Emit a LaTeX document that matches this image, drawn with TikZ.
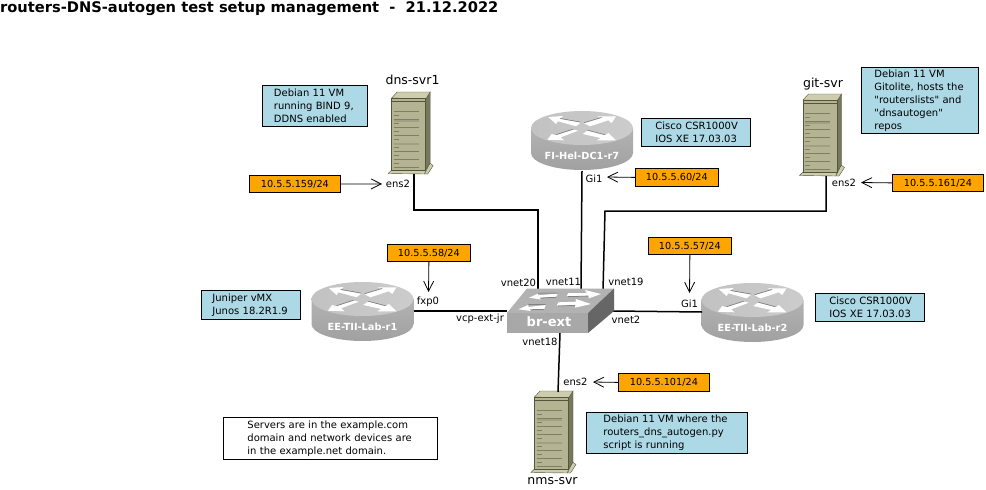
\documentclass[tikz,border=0pt]{standalone}
\usepackage{fontspec}
\setmainfont{DejaVu Sans}[Ligatures=TeXOff]
\usetikzlibrary{arrows.meta}
\definecolor{lblue}{HTML}{ADD8E6}
\definecolor{lorange}{HTML}{FFA500}
\definecolor{srvfront}{HTML}{B4B492}
\definecolor{srvtop}{HTML}{CDCDAE}
\definecolor{srvside}{HTML}{77775C}
\definecolor{srvedge}{HTML}{55553F}
\definecolor{srvline}{HTML}{7E7E60}
\definecolor{srvpale}{HTML}{A0A084}
\tikzset{
  x=1pt,y=-1pt,
  lbl/.style={font=\fontsize{10}{12}\selectfont,inner sep=0pt},
  hostname/.style={font=\fontsize{12.5}{14}\selectfont,inner sep=0pt},
  infobox/.style={draw=black,line width=0.8pt,anchor=north west,align=left,font=\fontsize{10}{13}\selectfont,inner ysep=0pt},
  bluebox/.style={infobox,fill=lblue},
  whitebox/.style={infobox,fill=white},
  ipbox/.style={draw=black,line width=0.8pt,fill=lorange,anchor=north west,inner sep=0pt,font=\fontsize{9.7}{11}\selectfont},
  link/.style={draw=black,line width=1.5pt},
  pointer/.style={draw=black,line width=0.8pt,-{Straight Barb[length=10pt,width=10pt,line width=0.8pt]}},
  pics/router/.style={code={
    \path[top color=black!30,bottom color=black!37] (-51,0) -- (-51,25) arc[start angle=180,end angle=360,x radius=51pt,y radius=17pt] -- (51,0) -- cycle;
    \path[left color=black!24,right color=black!20] (0,0) ellipse[x radius=51pt,y radius=17pt];
    \path[fill=white] (-33.7,-11) -- (-19,-12) -- (-22,-9) -- (-1.3,-5.3) -- (-6,-1.7) -- (-24,-6.7) -- (-26,-4) -- cycle;
    \path[fill=white] (2,-4.7) -- (19.7,-10) -- (14.7,-11.7) -- (34,-11.7) -- (29.7,-5) -- (26.3,-7.7) -- (8,-1.7) -- cycle;
    \path[fill=white] (-34.7,11.7) -- (-30.3,6) -- (-26,7.3) -- (-8.7,1.7) -- (-3.7,2.7) -- (-21.3,9.3) -- (-18,12.3) -- cycle;
    \path[fill=white] (0.7,6) -- (5.3,2.7) -- (23,7.3) -- (26.3,5) -- (34,12.3) -- (14.7,12.3) -- (18.7,10) -- cycle;
    \draw[black!55,line width=0.5pt] (2,-5.3) -- (19.7,-10.6) (-26,6.7) -- (-8.7,1.1) (-22,-9.6) -- (-1.3,-5.9) (5.3,2.1) -- (23,6.7);
    \node[inner sep=0pt,minimum width=103pt,minimum height=60pt] (-body) at (0,13) {};
    \node[inner sep=0pt,font=\fontsize{9.8}{11}\bfseries\selectfont,text=white] at (0,28) {#1};
  }},
  pics/server/.style={code={
    \path[fill=srvtop,draw=srvedge,line width=0.4pt] (-3.5,81.5) -- (0,78) -- (34,78) -- (33,82) -- cycle;
    \path[fill=srvtop,draw=srvedge,line width=0.4pt] (33,82) -- (38,71) -- (41.5,73.5) -- (36,82) -- cycle;
    \path[fill=srvside,draw=srvedge,line width=0.4pt] (34,7) -- (38.5,0) -- (38.5,71) -- (34,78) -- cycle;
    \path[fill=srvtop,draw=srvedge,line width=0.4pt] (0,6) -- (5.5,0) -- (38.5,0) -- (34,7) -- cycle;
    \path[fill=srvfront,draw=srvedge,line width=0.5pt] (0,6) rectangle (34,78);
    \draw[srvedge,line width=0.5pt] (0,9) -- (34,9);
    \foreach \yy in {19,27,...,75}{\draw[srvline,line width=0.8pt] (2,\yy) -- (27,\yy);}
    \foreach \yy in {23,31,...,75}{\draw[srvline,line width=0.7pt] (2,\yy) -- (7,\yy);}
    \foreach \yy in {29,52}{\draw[srvpale,line width=1.6pt] (2,\yy) -- (27,\yy);}
    \node[inner sep=0pt,minimum width=45pt,minimum height=82pt] (-body) at (19,41) {};
  }},
}
\begin{document}
\begin{tikzpicture}
\useasboundingbox (0,0) rectangle (986,490);
\path[fill=white] (0,0) rectangle (986,490);

\coordinate (sw20) at (538,291);
\coordinate (sw11) at (581,291);
\coordinate (sw19) at (603,291);
\coordinate (swL) at (507,311);
\coordinate (swR) at (613,311);
\coordinate (swB) at (560,333);
\coordinate (jdns1) at (414,210);
\coordinate (jdns2) at (538,210);
\coordinate (jgit1) at (826,211);
\coordinate (jgit2) at (605,211);
\coordinate (r1port) at (413.5,311);
\coordinate (r2port) at (702,312);
\coordinate (nmstop) at (558,392);

\pic (dns) at (391.7,92) {server};
\pic (git) at (803,94) {server};
\pic (nms) at (534.5,391) {server};

\pic (r7) at (582,128) {router={FI-Hel-DC1-r7}};
\pic (r1) at (362.5,299) {router={EE-TII-Lab-r1}};
\pic (r2) at (752.5,300) {router={EE-TII-Lab-r2}};

\draw[link] (414,174) -- (jdns1) -- (jdns2) -- (sw20);
\draw[link] (r7-body.south) -- (sw11);
\draw[link] (826,176) -- (jgit1) -- (jgit2) -- (sw19);
\draw[link] (r1port) -- (swL);
\draw[link] (swR) -- (r2port);
\draw[link] (swB) -- (nmstop);

% switch
\path[fill=black!30] (507,313) -- (527,288.5) -- (614,288.5) -- (588,313) -- cycle;
\path[fill=black!34] (507,313) rectangle (588,333);
\path[fill=black!60] (588,313) -- (614,288.5) -- (614,311) -- (588,333) -- cycle;
\path[fill=white] (529,297.7) -- (538,293.7) -- (538.3,295.3) -- (558,293.5) -- (556,296.7) -- (540,297.7) -- (541,299.5) -- cycle;
\path[fill=white] (566.7,296) -- (568.3,293) -- (586.7,293) -- (585,290) -- (601,294) -- (589,298.3) -- (588.3,295.7) -- cycle;
\path[fill=white] (518.3,309.3) -- (528.3,305) -- (528.3,307) -- (545.7,305) -- (544.3,309) -- (530,309.3) -- (531,311) -- cycle;
\path[fill=white] (556.7,305.7) -- (558.3,302.3) -- (576,301.7) -- (575.7,299) -- (591,304) -- (575,307.7) -- (575,305) -- cycle;
\draw[black!60,line width=0.5pt] (538,293.2) -- (558,293) (528.3,304.5) -- (545.7,304.5) (540,298.2) -- (556,297.2) (530,309.8) -- (544,309.5) (568,296.3) -- (588,296.2) (558,306) -- (575,305.5);
\node[inner sep=0pt,font=\fontsize{13}{14}\bfseries\selectfont,text=white] (sw) at (549,322) {br-ext};

\node[anchor=west,inner sep=0pt,font=\fontsize{14.65}{16}\bfseries\selectfont] (title) at (0,9) {routers-DNS-autogen test setup management\ \ -\ \ 21.12.2022};
\node[hostname] (ndns) at (412.5,80) {dns-svr1};
\node[hostname] (ngit) at (823,84.5) {git-svr};
\node[hostname] (nnms) at (552.5,481.5) {nms-svr};

\node[bluebox,minimum width=105pt,minimum height=41pt,inner xsep=11.5pt,text width=82pt] (idns) at (262,85) {Debian 11 VM\\running BIND 9,\\DDNS enabled};
\node[bluebox,minimum width=117pt,minimum height=66pt,inner xsep=13pt,text width=91pt] (igit) at (861,67) {Debian 11 VM\\Gitolite, hosts the\\"routerslists" and\\"dnsautogen"\\repos};
\node[bluebox,minimum width=109pt,minimum height=28pt,inner xsep=14pt,text width=81pt] (ir7) at (641,118) {Cisco~CSR1000V\\IOS~XE~17.03.03};
\node[bluebox,minimum width=99pt,minimum height=29pt,inner xsep=11pt,text width=77pt] (ir1) at (201,290) {Juniper vMX\\Junos 18.2R1.9};
\node[bluebox,minimum width=109pt,minimum height=28pt,inner xsep=14pt,text width=81pt] (ir2) at (815,293) {Cisco~CSR1000V\\IOS~XE~17.03.03};
\node[bluebox,minimum width=161pt,minimum height=41pt,inner xsep=17pt,text width=127pt] (inms) at (586,412) {Debian 11 VM where the\\routers\_dns\_autogen.py\\script is running};
\node[whitebox,minimum width=214pt,minimum height=42pt,inner xsep=24pt,text width=166pt] (note) at (223,417) {Servers are in the example.com\\domain and network devices are\\in the example.net domain.};

\node[ipbox,minimum width=91pt,minimum height=17pt] (ipdns) at (249,175) {10.5.5.159/24};
\node[ipbox,minimum width=83pt,minimum height=18pt] (ipr7) at (635,168) {10.5.5.60/24};
\node[ipbox,minimum width=91pt,minimum height=17pt] (ipgit) at (892,174) {10.5.5.161/24};
\node[ipbox,minimum width=83pt,minimum height=17pt] (ipr1) at (387,244) {10.5.5.58/24};
\node[ipbox,minimum width=83pt,minimum height=17pt] (ipr2) at (648,237) {10.5.5.57/24};
\node[ipbox,minimum width=91pt,minimum height=18pt] (ipnms) at (618,373) {10.5.5.101/24};

\node[lbl] (pdns) at (398,184) {ens2};
\node[lbl] (pr7) at (594,179) {Gi1};
\node[lbl] (pgit) at (844,183) {ens2};
\node[lbl] (pr1) at (428,302) {fxp0};
\node[lbl] (pr2) at (689.5,304) {Gi1};
\node[lbl] (pnms) at (575.5,382) {ens2};
\node[lbl] at (480,319) {vcp-ext-jr};
\node[lbl] at (518.5,283) {vnet20};
\node[lbl] at (563.5,282) {vnet11};
\node[lbl] at (626,282) {vnet19};
\node[lbl] at (626,320) {vnet2};
\node[lbl] at (540,342) {vnet18};

\draw[pointer] (ipdns.east) -- (382,184);
\draw[pointer] (ipr7.west) -- (607,177);
\draw[pointer] (ipgit.west) -- (861,182.5);
\draw[pointer] (ipr1.south) -- (428.5,292);
\draw[pointer] (ipr2.south) -- (689.5,293);
\draw[pointer] (ipnms.west) -- (593,382);
\end{tikzpicture}
\end{document}
